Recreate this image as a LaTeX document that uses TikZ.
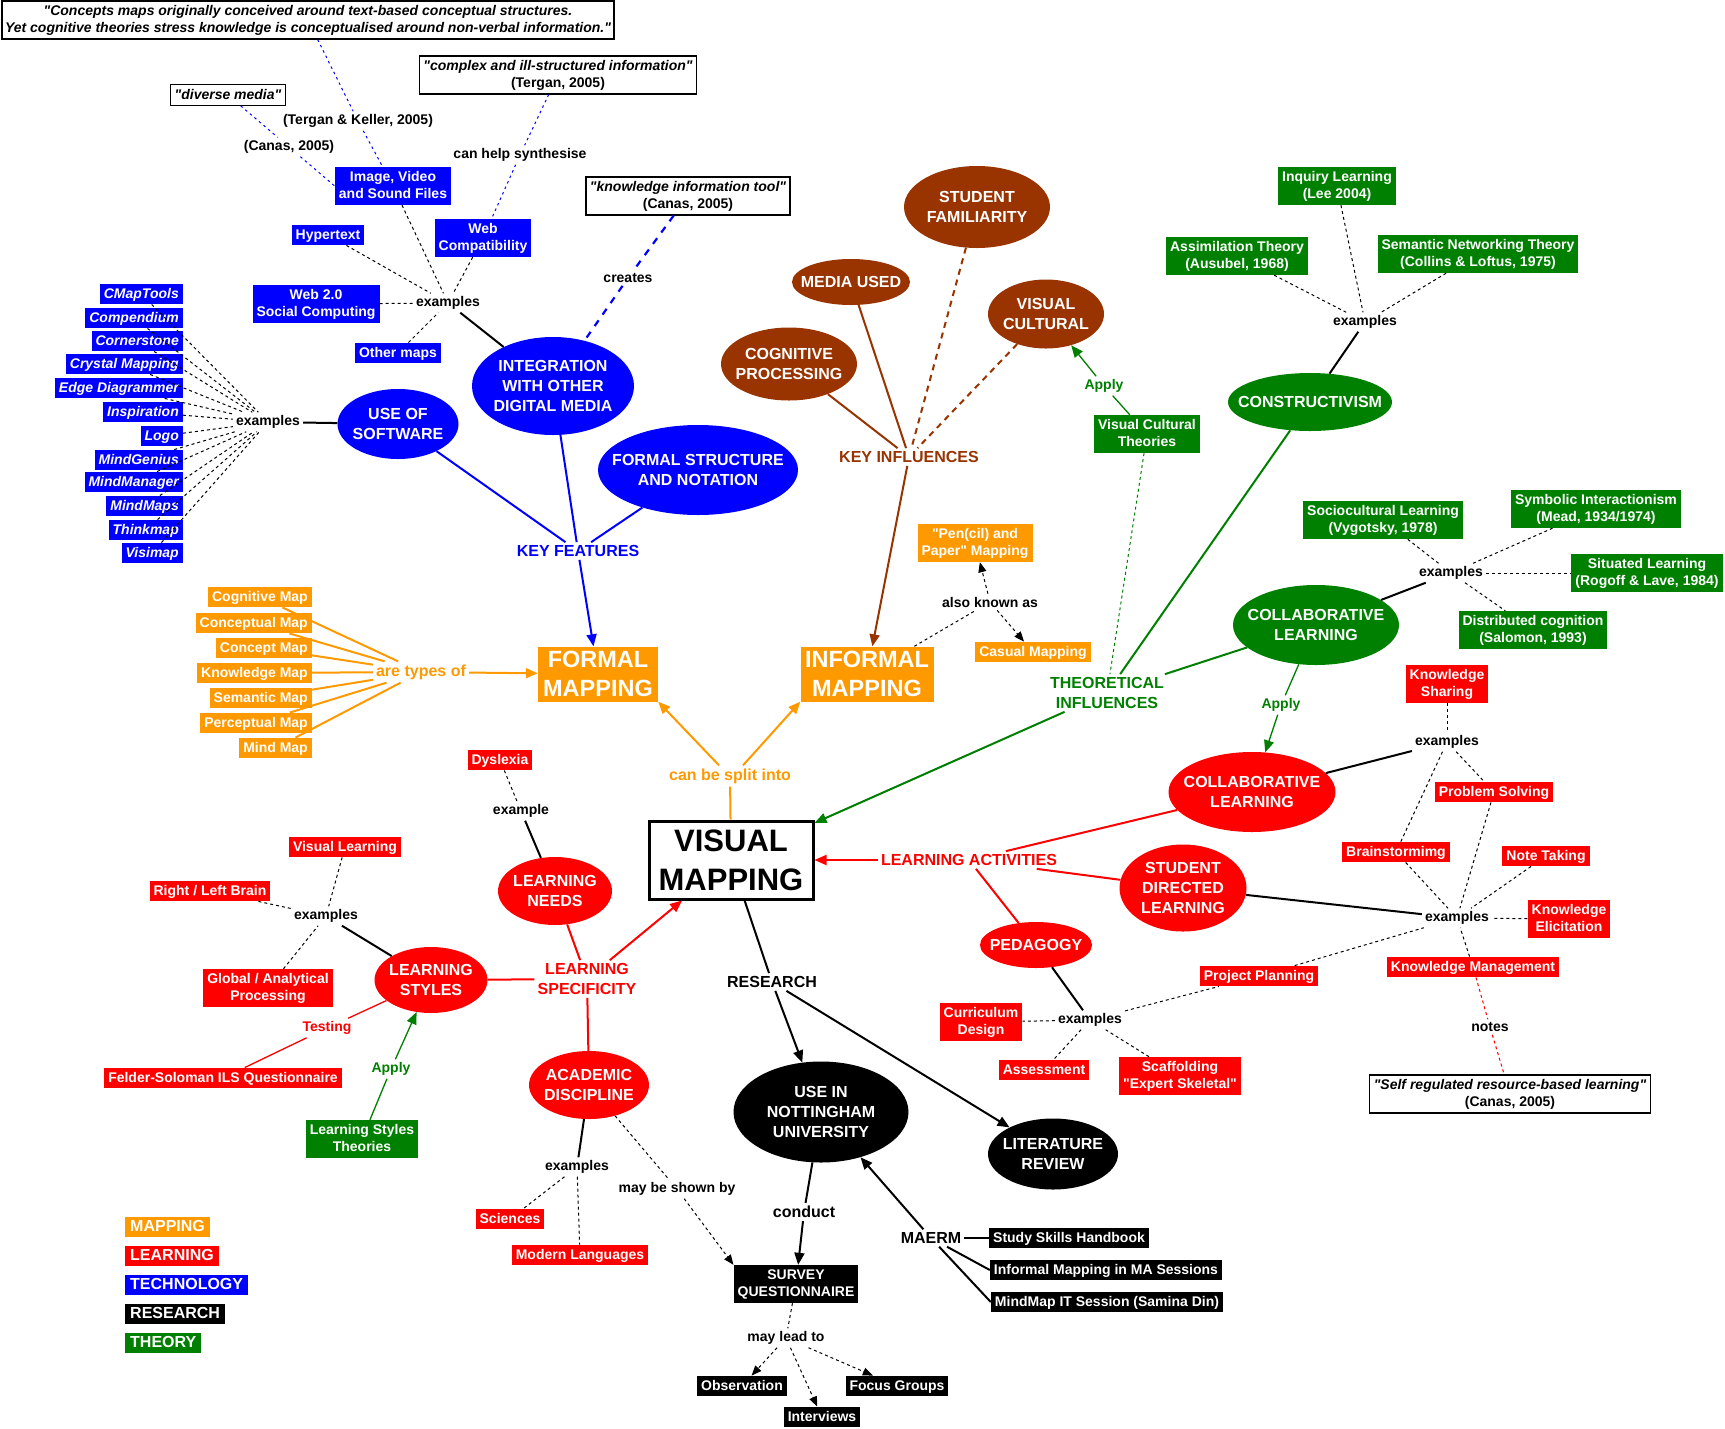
\documentclass[tikz,border=0pt]{standalone}
\usepackage{fontspec}
\newfontfamily\mainf{Liberation Sans}
\usetikzlibrary{shapes.geometric,arrows.meta}
\definecolor{cblue}{RGB}{0,0,255}
\definecolor{corange}{RGB}{255,153,0}
\definecolor{cred}{RGB}{255,0,0}
\definecolor{cbrown}{RGB}{153,51,0}
\definecolor{cgreen}{RGB}{0,128,0}
\newcommand\fntS{\mainf\fontsize{14}{17.5}\selectfont\bfseries}
\newcommand\fntM{\mainf\fontsize{16}{20}\selectfont\bfseries}
\newcommand\fntL{\mainf\fontsize{23.5}{29}\selectfont\bfseries}
\newcommand\fntX{\mainf\fontsize{31}{39}\selectfont\bfseries}
\newcommand\mystrut{\rule[-4.7pt]{0pt}{17.5pt}}
\newcommand\legstrut{\rule[-4.6pt]{0pt}{18pt}}
\newcommand\two[2]{\mystrut#1\\#2\mystrut}
\newcommand\ellnode[6]{%
  \node[ellipse, fill=#5, minimum width=#3, minimum height=#4, inner sep=0pt] (#1) at (#2) {};
  \node[elltxt] at (#1.center) {#6};}
\begin{document}
\begin{tikzpicture}[x=1pt,y=-1pt,
  box/.style={rectangle, inner xsep=4pt, inner ysep=1.5pt, align=center, font=\fntS, text=white,
    execute at begin node=\mystrut, execute at end node=\mystrut},
  bbox/.style={box, fill=cblue},
  swbox/.style={box, fill=cblue, font=\fntS\itshape, anchor=east},
  obox/.style={box, fill=corange},
  mtbox/.style={box, fill=corange, anchor=east},
  rbox/.style={box, fill=cred},
  gbox/.style={box, fill=cgreen},
  kbox/.style={box, fill=black},
  qbox/.style={box, fill=white, draw=black, line width=1.2pt, text=black},
  legend/.style={rectangle, anchor=west, inner xsep=5pt, inner ysep=1pt, font=\fntM, text=white,
    execute at begin node=\legstrut},
  elltxt/.style={font=\fntM, text=white, align=center, inner sep=0pt},
  lab/.style={inner sep=3pt, font=\fntS, align=center},
  labM/.style={inner sep=3pt, font=\fntM, align=center},
  ln/.style={line width=2pt},
  dsh/.style={line width=1pt, dash pattern=on 3pt off 3pt},
  bdot/.style={cblue, line width=1pt, dash pattern=on 2.5pt off 3.5pt},
  bdash/.style={cblue, line width=2.2pt, dash pattern=on 7pt off 7pt},
  brdash/.style={cbrown, line width=2pt, dash pattern=on 6pt off 5pt},
  arr/.style={-{Triangle[length=12pt,width=10pt]}},
  sarr/.style={-{Triangle[length=10pt,width=8pt]}}
]
\fill[white] (0,0) rectangle (1725,1428);
\useasboundingbox (0,0) rectangle (1725,1428);

% ---------------- quotes
\node[qbox, inner xsep=3pt] (q1) at (308,20) {\two{{\itshape "Concepts maps originally conceived around text-based conceptual structures.}}{{\itshape Yet cognitive theories stress knowledge is conceptualised around non-verbal information."}}};
\node[qbox] (qDiv) at (228,95) {\itshape "diverse media"};
\node[qbox] (qComplex) at (558,75) {\two{{\itshape "complex and ill-structured information"}}{(Tergan, 2005)}};
\node[qbox] (qKnow) at (688,196) {\two{{\itshape "knowledge information tool"}}{(Canas, 2005)}};
\node[qbox] (qSelf) at (1510,1094) {\two{{\itshape "Self regulated resource-based learning"}}{(Canas, 2005)}};

% ---------------- labels
\node[lab] (tergK) at (358,121) {(Tergan \& Keller, 2005)};
\node[lab] (canas1) at (289,147) {(Canas, 2005)};
\node[lab] (synth) at (520,155) {can help synthesise};
\node[lab] (creates) at (628,278) {creates};
\node[lab] (exTech) at (448,303) {examples};
\node[lab] (exSoft) at (268,422) {examples};
\node[labM, text=cblue] (keyFeat) at (578,551) {KEY FEATURES};
\node[labM, text=cbrown] (keyInf) at (909,457) {KEY INFLUENCES};
\node[lab, text=cgreen] (apply1) at (1104,386) {Apply};
\node[lab] (exCons) at (1365,322) {examples};
\node[labM, text=cgreen] (theo) at (1107,693) {THEORETICAL\\INFLUENCES};
\node[lab] (aka) at (990,602) {also known as};
\node[labM, text=corange] (types) at (421,672) {are types of};
\node[labM, text=corange] (split) at (730,776) {can be split into};
\node[lab] (exDys) at (521,811) {example};
\node[labM, text=cred] (learnAct) at (969,860) {LEARNING ACTIVITIES};
\node[lab, text=cgreen] (apply2) at (1281,705) {Apply};
\node[lab] (exCollab) at (1451,573) {examples};
\node[lab] (exRed) at (1447,742) {examples};
\node[lab] (exThree) at (1457,918) {examples};
\node[lab] (notes) at (1490,1027) {notes};
\node[lab] (exPeda) at (1090,1020) {examples};
\node[labM, text=cred] (spec) at (587,979) {LEARNING\\SPECIFICITY};
\node[lab] (exStyles) at (326,916) {examples};
\node[lab, text=cred] (testing) at (327,1028) {Testing};
\node[lab, text=cgreen] (apply3) at (391,1069) {Apply};
\node[lab] (exAcad) at (577,1167) {examples};
\node[lab] (shown) at (677,1189) {may be shown by};
\node[labM] (research) at (772,982) {RESEARCH};
\node[labM] (conduct) at (804,1212) {conduct};
\node[lab] (lead) at (786,1338) {may lead to};
\node[labM] (maerm) at (931,1238) {MAERM};

% ---------------- blue boxes
\node[bbox] (bImage) at (393,186) {\two{Image, Video}{and Sound Files}};
\node[bbox] (bHyper) at (328,235) {Hypertext};
\node[bbox] (bWeb2) at (316,304) {\two{Web 2.0}{Social Computing}};
\node[bbox] (bOther) at (398,353) {Other maps};
\node[bbox] (bWebc) at (483,238) {\two{Web}{Compatibility}};
\foreach \n/\y [count=\i] in {CMapTools/294,Compendium/318,Cornerstone/341,Crystal Mapping/364,Edge Diagrammer/388,Inspiration/412,Logo/436,MindGenius/460,MindManager/482,MindMaps/506,Thinkmap/530,Visimap/553}
  \node[swbox] (sw\i) at (183,\y) {\n};

% ---------------- orange boxes
\foreach \n/\y [count=\i] in {Cognitive Map/597,Conceptual Map/623,Concept Map/648,Knowledge Map/673,Semantic Map/698,Perceptual Map/723,Mind Map/748}
  \node[mtbox] (mt\i) at (312,\y) {\n};
\node[rectangle, fill=corange, text=white, font=\fntL, align=center, minimum width=120pt, minimum height=55pt, inner sep=0pt] (formal) at (598,674) {FORMAL\\MAPPING};
\node[rectangle, fill=corange, text=white, font=\fntL, align=center, minimum width=133pt, minimum height=55pt, inner sep=0pt] (informal) at (867,674) {INFORMAL\\MAPPING};
\node[obox] (pen) at (975,543) {\two{"Pen(cil) and}{Paper" Mapping}};
\node[obox] (casual) at (1033,652) {Casual Mapping};

% ---------------- central
\node[rectangle, draw=black, line width=3pt, fill=white, font=\fntX, align=center, minimum width=164pt, minimum height=78pt, inner sep=0pt] (vm) at (731,860) {VISUAL\\MAPPING};

% ---------------- red boxes
\node[rbox] (dys) at (500,760) {Dyslexia};
\node[rbox] (visLearn) at (345,847) {Visual Learning};
\node[rbox] (rlBrain) at (210,891) {Right / Left Brain};
\node[rbox] (global) at (268,988) {\two{Global / Analytical}{Processing}};
\node[rbox] (felder) at (223,1078) {Felder-Soloman ILS Questionnaire};
\node[rbox] (sci) at (510,1219) {Sciences};
\node[rbox] (modLang) at (580,1255) {Modern Languages};
\node[rbox] (curr) at (981,1022) {\two{Curriculum}{Design}};
\node[rbox] (assess) at (1044,1070) {Assessment};
\node[rbox] (scaff) at (1180,1076) {\two{Scaffolding}{"Expert Skeletal"}};
\node[rbox] (proj) at (1259,976) {Project Planning};
\node[rbox] (kMan) at (1473,967) {Knowledge Management};
\node[rbox] (kShare) at (1447,684) {\two{Knowledge}{Sharing}};
\node[rbox] (prob) at (1494,792) {Problem Solving};
\node[rbox] (brain) at (1396,852) {Brainstormimg};
\node[rbox] (noteT) at (1546,856) {Note Taking};
\node[rbox] (kElic) at (1569,919) {\two{Knowledge}{Elicitation}};

% ---------------- green boxes
\node[gbox] (vct) at (1147,434) {\two{Visual Cultural}{Theories}};
\node[gbox] (assim) at (1237,256) {\two{Assimilation Theory}{(Ausubel, 1968)}};
\node[gbox] (inq) at (1337,186) {\two{Inquiry Learning}{(Lee 2004)}};
\node[gbox] (sem) at (1478,254) {\two{Semantic Networking Theory}{(Collins \& Loftus, 1975)}};
\node[gbox] (socio) at (1383,520) {\two{Sociocultural Learning}{(Vygotsky, 1978)}};
\node[gbox] (symb) at (1596,509) {\two{Symbolic Interactionism}{(Mead, 1934/1974)}};
\node[gbox] (sit) at (1647,573) {\two{Situated Learning}{(Rogoff \& Lave, 1984)}};
\node[gbox] (dist) at (1533,630) {\two{Distributed cognition}{(Salomon, 1993)}};
\node[gbox] (lst) at (362,1139) {\two{Learning Styles}{Theories}};

% ---------------- black boxes
\node[kbox] (survey) at (796,1284) {\two{SURVEY}{QUESTIONNAIRE}};
\node[kbox] (obs) at (742,1386) {Observation};
\node[kbox] (interv) at (822,1417) {Interviews};
\node[kbox] (focus) at (897,1386) {Focus Groups};
\node[kbox] (study) at (1069,1238) {Study Skills Handbook};
\node[kbox] (infMA) at (1106,1270) {Informal Mapping in MA Sessions};
\node[kbox] (mindIT) at (1107,1302) {MindMap IT Session (Samina Din)};

% ---------------- ellipses
\ellnode{eInteg}{553,386}{162pt}{98pt}{cblue}{INTEGRATION\\WITH OTHER\\DIGITAL MEDIA}
\ellnode{eSoft}{398,424}{121pt}{70pt}{cblue}{USE OF\\SOFTWARE}
\ellnode{eFormSt}{698,470}{200pt}{90pt}{cblue}{FORMAL STRUCTURE\\AND NOTATION}
\ellnode{eMedia}{851,282}{118pt}{46pt}{cbrown}{MEDIA USED}
\ellnode{eCog}{789,364}{136pt}{73pt}{cbrown}{COGNITIVE\\PROCESSING}
\ellnode{eFam}{977,207}{146pt}{82pt}{cbrown}{STUDENT\\FAMILIARITY}
\ellnode{eVisCult}{1046,314}{116pt}{69pt}{cbrown}{VISUAL\\CULTURAL}
\ellnode{eCons}{1310,402}{164pt}{58pt}{cgreen}{CONSTRUCTIVISM}
\ellnode{eGCollab}{1316,625}{166pt}{80pt}{cgreen}{COLLABORATIVE\\LEARNING}
\ellnode{eRCollab}{1252,792}{167pt}{80pt}{cred}{COLLABORATIVE\\LEARNING}
\ellnode{eSDL}{1183,888}{127pt}{87pt}{cred}{STUDENT\\DIRECTED\\LEARNING}
\ellnode{ePeda}{1036,945}{112pt}{46pt}{cred}{PEDAGOGY}
\ellnode{eNeeds}{555,891}{114pt}{68pt}{cred}{LEARNING\\NEEDS}
\ellnode{eStyles}{431,980}{113pt}{66pt}{cred}{LEARNING\\STYLES}
\ellnode{eAcad}{589,1085}{120pt}{68pt}{cred}{ACADEMIC\\DISCIPLINE}
\ellnode{eNott}{821,1112}{175pt}{101pt}{black}{USE IN\\NOTTINGHAM\\UNIVERSITY}
\ellnode{eLit}{1053,1154}{130pt}{71pt}{black}{LITERATURE\\REVIEW}

% ---------------- legend
\node[legend, fill=corange] (legMap) at (125,1227) {MAPPING};
\node[legend, fill=cred] (legLearn) at (125,1256) {LEARNING};
\node[legend, fill=cblue] (legTech) at (125,1285) {TECHNOLOGY};
\node[legend, fill=black] (legRes) at (125,1314) {RESEARCH};
\node[legend, fill=cgreen] (legTheo) at (125,1343) {THEORY};

% ================= connectors
% technology
\draw[bdot] (q1) -- (tergK) -- (bImage);
\draw[bdot] (qDiv) -- (canas1) -- (bImage.west);
\draw[bdot] (qComplex) -- (synth) -- (bWebc);
\draw[bdash] (qKnow) -- (creates) -- (eInteg);
\foreach \b in {bImage,bHyper,bWeb2,bOther,bWebc} \draw[dsh] (\b) -- (exTech);
\draw[ln] (exTech) -- (eInteg);
\foreach \i in {1,...,12} \draw[dsh] (sw\i) -- (exSoft);
\draw[ln] (exSoft) -- (eSoft);
\draw[ln, cblue] (eSoft) -- (keyFeat);
\draw[ln, cblue] (eInteg) -- (keyFeat);
\draw[ln, cblue] (eFormSt) -- (keyFeat);
\draw[ln, cblue, arr] (keyFeat) -- (formal);

% influences
\draw[ln, cbrown] (eCog) -- (keyInf);
\draw[ln, cbrown] (eMedia) -- (keyInf);
\draw[brdash] (eFam) -- (keyInf);
\draw[brdash] (eVisCult) -- (keyInf);
\draw[ln, cbrown, arr] (keyInf) -- (informal);
\draw[cgreen, line width=1.3pt, arr] (vct) -- (apply1) -- (eVisCult);
\draw[cgreen, line width=1pt, dash pattern=on 3pt off 3pt] (vct) -- (theo);

% theory
\draw[dsh] (assim) -- (exCons);
\draw[dsh] (inq) -- (exCons);
\draw[dsh] (sem) -- (exCons);
\draw[ln] (exCons) -- (eCons);
\draw[ln, cgreen] (eCons) -- (theo);
\draw[ln, cgreen] (theo) -- (eGCollab);
\draw[ln, cgreen, arr] (theo) -- (vm);
\draw[ln] (eGCollab) -- (exCollab);
\foreach \b in {socio,symb,sit,dist} \draw[dsh] (exCollab) -- (\b);
\draw[cgreen, line width=1.3pt, arr] (eGCollab) -- (apply2) -- (eRCollab);

% informal
\draw[dsh] (informal) -- (aka);
\draw[dsh, sarr] (aka) -- (pen);
\draw[dsh, sarr] (aka) -- (casual);

% mapping
\foreach \i in {1,...,7} \draw[ln, corange] (mt\i) -- (types);
\draw[ln, corange, arr] (types) -- (formal);
\draw[ln, corange] (vm) -- (split);
\draw[ln, corange, arr] ([xshift=-11pt]split.north) -- (formal.south east);
\draw[ln, corange, arr] ([xshift=13pt]split.north) -- (informal.south west);

% learning
\draw[dsh] (dys) -- (exDys);
\draw[ln] (exDys) -- (eNeeds);
\draw[ln, cred] (eNeeds) -- (spec);
\draw[ln, cred, arr] (spec) -- (vm);
\draw[ln, cred] (eStyles) -- (spec);
\draw[ln, cred] (spec) -- (eAcad);
\draw[ln, cred, arr] (learnAct) -- (vm);
\draw[ln, cred] (learnAct) -- (eRCollab);
\draw[ln, cred] (learnAct) -- (eSDL);
\draw[ln, cred] (learnAct) -- (ePeda);

\draw[ln] (eRCollab) -- (exRed);
\draw[dsh] (kShare) -- (exRed);
\draw[dsh] (exRed) -- (prob);
\draw[dsh] (exRed) -- (brain);
\draw[ln] (eSDL) -- (exThree);
\foreach \b in {brain,prob,noteT,kElic,proj,kMan} \draw[dsh] (\b) -- (exThree);
\draw[cred, line width=1pt, dash pattern=on 3pt off 3pt] (kMan) -- (notes) -- (qSelf);

\draw[ln] (ePeda) -- (exPeda);
\foreach \b in {curr,assess,scaff,proj} \draw[dsh] (exPeda) -- (\b);

\draw[dsh] (visLearn) -- (exStyles);
\draw[dsh] (rlBrain) -- (exStyles);
\draw[dsh] (global) -- (exStyles);
\draw[ln] (exStyles) -- (eStyles);
\draw[cred, line width=1.3pt] (eStyles) -- (testing) -- (felder);
\draw[cgreen, line width=1.3pt, arr] (lst) -- (apply3) -- (eStyles);

\draw[ln] (eAcad) -- (exAcad);
\draw[dsh] (exAcad) -- (sci);
\draw[dsh] (exAcad) -- (modLang);
\draw[dsh, sarr] (eAcad) -- (shown) -- (survey.north west);

% research
\draw[ln] (vm) -- (research);
\draw[ln, arr] (research) -- (eNott);
\draw[ln, arr] (research) -- (eLit);
\draw[ln] (eNott) -- (conduct);
\draw[ln, arr] (conduct) -- (survey);
\draw[dsh] (survey) -- (lead);
\draw[dsh, sarr] (lead) -- (obs);
\draw[dsh, sarr] (lead) -- (interv);
\draw[dsh, sarr] (lead) -- (focus);
\draw[ln, arr] (maerm) -- (eNott);
\draw[ln] (maerm) -- (study.west);
\draw[ln] (maerm) -- (infMA.west);
\draw[ln] (maerm) -- (mindIT.west);
\end{tikzpicture}
\end{document}
